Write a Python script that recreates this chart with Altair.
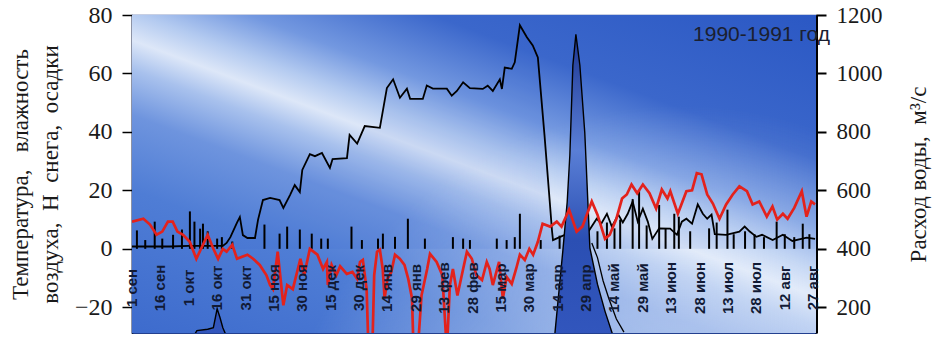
import altair as alt
import pandas as pd

BASE = pd.Timestamp("1990-09-01")
END = pd.Timestamp("1991-08-28 12:00")

# Air temperature, °C  (days counted from 1 Sep 1990)
temp_day = [0, 6, 9.5, 13, 16, 19, 21.5, 24, 27, 30.5, 34, 37.5, 40, 43, 45.5, 48, 50, 53, 55.5,
            61, 64, 67.5, 71, 73, 74.5, 77, 80, 82, 85, 89, 91, 94, 98, 101, 103, 103.5, 105.5,
            108, 110, 113.5, 116.5, 119, 120.5, 122, 124, 125, 127, 128, 129.5, 131, 132.5, 133.5,
            135, 137, 139, 141.5, 144, 146, 148, 148.8, 151, 153, 156, 157.5, 161, 164, 166.4,
            168, 169.6, 172, 175, 177, 179.6, 182, 185, 187.5, 189, 190.7, 194, 196, 198, 200.7,
            203, 205, 207.6, 210, 212, 214.5, 217, 221, 224.5, 227, 231, 235, 238, 243, 246, 250,
            252.5, 256, 259, 261.5, 264, 267, 270, 273.5, 277, 280, 283, 284.5, 288.5, 293, 296,
            298.5, 301, 304, 307, 310.5, 314, 317.5, 321, 325, 328, 331.5, 335.5, 338.5, 341, 344,
            346.5, 350, 354, 356.5, 359, 361]
temp_c = [9.3, 10.3, 8.3, 4.8, 5.9, 9.3, 9.3, 5.9, 4.8, 2.4, -3.4, 1.4, 4.8, 0, -3.4, 0, -1, 1.4, -3.4,
          -2, -3.4, -5.5, -9, -12.4, -13.8, -1, -19.3, -12.4, -13.8, -3.4, -9, 0, -2, -6.9, -4.5, -12.4, -5.5,
          -9, -6, -8.6, -7.9, -10.3, -4.5, -3.8, -13.8, -35, -35, -9, -1, -0.3, -6.9, -17,
          -10.3, -8, -2, -3.4, -5.5, -10.3, -17, -35, -35, -16, -6.9, -1.7, -4.5, -9, -35,
          -12.4, -6.9, -16, -6.9, -1, -3.4, -9, -10.7, -4.5, -6.9, -12.4, -4.5, -17, -9.6, -12,
          -6.9, -2, -3.8, 0, -2, 2.4, 8.6, 7.6, 9.3, 7.6, 13.4, 5.9, 7.6, 16.2, 11.7, 3.4,
          4.8, 10.3, 17.2, 18.6, 22, 19, 22, 19, 13.8, 20.3, 17.2, 19.7, 12, 19.7, 20,
          25.9, 25.5, 18.6, 15.5, 10.3, 15.2, 18.6, 21.4, 19.7, 15.2, 16.2, 11, 14.5, 10, 12,
          10.3, 14, 19.7, 11, 16.2, 15.2]

# Snow depth (cm) and the summer humidity trace drawn with the same black outline
snow_day = [0, 10, 20, 30, 40, 48, 50, 52, 55.5, 57, 58.6, 61, 65, 66.6, 69.2, 73, 78, 80, 83.5, 86,
            88.7, 90, 94, 96.7, 100.4, 104.6, 106, 113.6, 115, 119, 123, 131, 134.7, 138, 141.6,
            145.3, 147, 153.7, 155.8, 159, 166.4, 169, 171.7, 175, 178.6, 185.4, 188, 190.7, 194.4,
            195.5, 197, 200.7, 202.3, 205, 208.7, 211.8, 214.5, 218, 220.8, 222, 222.5, 226, 231,
            235, 239, 245.6, 248, 251, 253.6, 257, 259.4, 262, 264.6, 267.3, 270, 272.6, 275,
            278.6, 284.4, 288, 290.6, 293, 296, 299, 301.7, 304, 306.3, 308, 314, 321, 323.8,
            326.5, 330, 333, 338.6, 344, 349, 356.6, 361]
snow_cm = [0.8, 0.8, 0.8, 1, 1, 1, 2, 4, 9, 10.9, 4.7, 3.7, 3.7, 9.9, 16.7, 17.4, 16.7, 14, 18.4, 21.8,
           19.4, 27, 32.4, 31.7, 32.8, 27.7, 30.7, 31, 39, 36, 42, 41.4, 55, 58, 51.7,
           54.8, 51.3, 51.3, 55.9, 54.8, 54.8, 52.4, 54, 57, 55, 54.7, 55.8, 54, 58,
           54.7, 62, 61.6, 63.8, 76.5, 72.4, 69.6, 65.5, 39, 16, 6, 3, 4, 5.4,
           6.6, 3.7, 10.3, 8.6, 12, 7.6, 11.7, 9, 12, 16.2, 9.3, 13.7, 9.3, 3.4,
           7, 6.9, 4.8, 9.3, 10.3, 8.6, 15.2, 12, 10.3, 11.7, 5, 4.8, 5.9, 7.6,
           5.9, 4.1, 4.8, 3, 4.8, 2.7, 3.8, 3.4]

# Precipitation, mm
precip_day = [2.6, 7, 12, 16, 21.7, 26.4, 30.6, 33, 36, 37.5, 40, 45, 47.5, 53, 70, 78, 82, 88.7, 95,
              100, 103.5, 116, 121.5, 130, 132.6, 139, 145.8, 154.8, 169.6, 175, 178.6, 192.8, 198,
              202.3, 205, 216, 226, 232, 246, 251, 255, 258, 264.6, 268, 272, 278.6, 282, 286.6,
              289, 295, 305, 309, 314.7, 318, 324, 329, 334, 340.7, 345, 350, 354.5, 358]
precip_mm = [6.3, 3, 9.3, 3.5, 4.8, 6.6, 12.8, 9.3, 6.9, 8.6, 6, 3.5, 4, 2.5, 8.3, 5.2, 7.6, 6.6, 5.2,
             3.5, 3.5, 7.6, 3, 3.5, 5.2, 4.1, 10.3, 3.5, 4, 3.5, 3, 3.5, 3,
             4, 12, 3, 4.5, 6, 6, 9, 7, 10, 17, 20, 8, 15, 7, 12,
             11, 6, 7, 9, 13.4, 5, 6, 5, 4, 9.3, 5, 4, 8.6, 5]

# Water discharge, m³/s
flow_day = [0, 32, 34.3, 40, 43, 45, 46.5, 48, 50, 52, 222, 223.5, 227.7, 230, 231.4, 233, 234.6,
            236.7, 239.3, 240.9, 242, 246, 250, 254, 256, 361]
flow_m3s = [90, 95, 120, 125, 130, 195, 165, 130, 100, 90, 90, 110, 393, 560, 720, 1028, 1134,
            1028, 797, 565, 403, 279, 186, 107, 90, 90]

# Recession of the second gauge
flow2_day = [243, 246, 249, 252, 256, 260]
flow2_m3s = [420, 370, 290, 230, 160, 115]

date_labels = ["1 сен", "16 сен", "1 окт", "16 окт", "31 окт", "15 ноя", "30 ноя", "15 дек",
               "30 дек", "14 янв", "29 янв", "13 фев", "28 фев", "15 мар", "30 мар", "14 апр",
               "29 апр", "14 май", "29 май", "13 июн", "28 июн", "13 июл", "28 июл", "12 авг",
               "27 авг"]
season_title = "1990-1991 год"

LEFT_DOMAIN = [-28.8, 80]
RIGHT_DOMAIN = [112, 1200]
W, H = 684, 318


def frame(days, values, name):
    return pd.DataFrame({"date": BASE + pd.to_timedelta(days, unit="D"), name: values})


temp_df = frame(temp_day, temp_c, "temp")
snow_df = frame(snow_day, snow_cm, "snow")
precip_df = frame(precip_day, precip_mm, "precip")
precip_df["base"] = 0.0
flow_df = frame(flow_day, flow_m3s, "flow")
flow2_df = frame(flow2_day, flow2_m3s, "flow")
label_df = pd.DataFrame({
    "date": [BASE + pd.Timedelta(days=15 * i) for i in range(len(date_labels))],
    "label": date_labels,
})
title_df = pd.DataFrame({"date": [END], "label": [season_title]})
panel_df = pd.DataFrame({"start": [BASE], "end": [END],
                         "lo": [LEFT_DOMAIN[0]], "hi": [LEFT_DOMAIN[1]]})


def dt(ts):
    return alt.DateTime(year=ts.year, month=ts.month, date=ts.day, hours=ts.hour)


minor_ticks = [dt(BASE + pd.Timedelta(days=5 * k)) for k in range(73)]
x_scale = alt.Scale(domain=[dt(BASE), dt(END)])
zero_offset = -(H - H * LEFT_DOMAIN[1] / (LEFT_DOMAIN[1] - LEFT_DOMAIN[0]))

# The time axis runs along the zero line, with a small tick every five days
x_axis = alt.Axis(values=minor_ticks, labels=False, ticks=True, tickSize=4, tickWidth=1,
                  tickColor="black", domainColor="black", domainWidth=2, grid=False,
                  offset=zero_offset, title=None)

left_axis = alt.Axis(
    orient="left", values=[-20, 0, 20, 40, 60, 80], grid=False,
    tickSize=10, tickWidth=1.5, tickColor="black", domainColor="black", domainWidth=1.5,
    labelFont="Liberation Serif", labelFontSize=24, labelColor="#1a1a1a", labelPadding=10,
    title=["Температура,\u00a0\u00a0 влажность", "воздуха,\u00a0 Н\u00a0 снега,\u00a0 осадки"],
    titleFont="Liberation Serif", titleFontSize=23, titleFontWeight="normal",
    titleColor="#1a1a1a", titlePadding=12, titleLineHeight=30,
)
right_axis = alt.Axis(
    orient="right", values=[200, 400, 600, 800, 1000, 1200], format="d", grid=False,
    tickSize=10, tickWidth=2, tickColor="black", domainColor="black", domainWidth=3,
    labelFont="Liberation Serif", labelFontSize=23, labelColor="#1a1a1a", labelPadding=10,
    title="Расход воды,\u00a0 м³/с", titleAngle=270,
    titleFont="Liberation Serif", titleFontSize=23, titleFontWeight="normal",
    titleColor="#1a1a1a", titlePadding=48,
)

left_scale = alt.Scale(domain=LEFT_DOMAIN, nice=False, zero=False)
right_scale = alt.Scale(domain=RIGHT_DOMAIN, nice=False, zero=False)

backdrop = alt.LinearGradient(
    gradient="linear", x1=0.433, y1=-0.457, x2=-0.45, y2=0.638,
    stops=[
        alt.GradientStop(color="#2b58c4", offset=0.0),
        alt.GradientStop(color="#3b67cb", offset=0.25),
        alt.GradientStop(color="#7398e0", offset=0.37),
        alt.GradientStop(color="#b3caf0", offset=0.44),
        alt.GradientStop(color="#dde7f8", offset=0.49),
        alt.GradientStop(color="#a8c1ed", offset=0.54),
        alt.GradientStop(color="#6e94de", offset=0.62),
        alt.GradientStop(color="#4f7dd5", offset=0.75),
        alt.GradientStop(color="#3d6bcd", offset=1.0),
    ],
)
glow = alt.RadialGradient(
    gradient="radial", x1=0.8, y1=1.0, x2=0.8, y2=1.0, r1=0, r2=0.6,
    stops=[
        alt.GradientStop(color="rgba(236,243,253,0.8)", offset=0.0),
        alt.GradientStop(color="rgba(236,243,253,0.45)", offset=0.5),
        alt.GradientStop(color="rgba(236,243,253,0)", offset=1.0),
    ],
)
flood_fill = alt.LinearGradient(
    gradient="linear", x1=0, y1=0, x2=0, y2=1,
    stops=[
        alt.GradientStop(color="#1b3592", offset=0.0),
        alt.GradientStop(color="#5a7fd6", offset=0.35),
        alt.GradientStop(color="#2b4fb3", offset=0.62),
        alt.GradientStop(color="#3458c0", offset=1.0),
    ],
)

X = dict(scale=x_scale, axis=None)

panel = alt.Chart(panel_df).mark_rect(fill=backdrop).encode(
    x=alt.X("start:T", scale=x_scale, axis=x_axis),
    x2="end:T",
    y=alt.Y("lo:Q", scale=left_scale, axis=left_axis),
    y2="hi:Q",
)
panel_glow = alt.Chart(panel_df).mark_rect(fill=glow).encode(
    x=alt.X("start:T", **X),
    x2="end:T",
    y=alt.Y("lo:Q", scale=left_scale, axis=None),
    y2="hi:Q",
)
snow_area = alt.Chart(snow_df).mark_area(color="#3566d2", opacity=0.1, clip=True).encode(
    x=alt.X("date:T", **X),
    y=alt.Y("snow:Q", scale=left_scale, axis=None),
)
precip = alt.Chart(precip_df).mark_rule(color="black", strokeWidth=2, clip=True).encode(
    x=alt.X("date:T", **X),
    y=alt.Y("precip:Q", scale=left_scale, axis=None),
    y2="base:Q",
)
snow_line = alt.Chart(snow_df).mark_line(color="black", strokeWidth=1.8, clip=True).encode(
    x=alt.X("date:T", **X),
    y=alt.Y("snow:Q", scale=left_scale, axis=None),
)
labels = alt.Chart(label_df).mark_text(
    angle=270, align="center", baseline="middle", font="Liberation Sans",
    fontSize=15, fontWeight="bold", color="#111a35",
).encode(
    x=alt.X("date:T", **X),
    y=alt.YDatum(-13.4, scale=left_scale, axis=None),
    text="label:N",
)
year_text = alt.Chart(title_df).mark_text(
    align="right", baseline="middle", font="Liberation Sans", fontSize=21,
    color="#1b2030", dx=14,
).encode(
    x=alt.X("date:T", **X),
    y=alt.YDatum(73, scale=left_scale, axis=None),
    text="label:N",
)
flow_area = alt.Chart(flow_df).mark_area(
    fill=flood_fill, stroke="black", strokeWidth=1.4, clip=True
).encode(
    x=alt.X("date:T", **X),
    y=alt.Y("flow:Q", scale=right_scale, axis=right_axis),
)
flow2_line = alt.Chart(flow2_df).mark_line(color="black", strokeWidth=1.3, clip=True).encode(
    x=alt.X("date:T", **X),
    y=alt.Y("flow:Q", scale=right_scale, axis=None),
)
temp_line = alt.Chart(temp_df).mark_line(color="#e3221c", strokeWidth=2.7, clip=True).encode(
    x=alt.X("date:T", **X),
    y=alt.Y("temp:Q", scale=left_scale, axis=None),
)

chart = alt.layer(
    panel, panel_glow, snow_area, precip, snow_line, flow_area, flow2_line, temp_line,
    labels, year_text,
).resolve_scale(
    y="independent"
).properties(
    width=W, height=H,
    padding={"left": 132, "top": 15, "right": 116, "bottom": 11},
    autosize=alt.AutoSizeParams(type="none"),
    background="white",
).configure_view(stroke="#23408f", strokeWidth=1.2)

chart.save("out.html", embed_options={"renderer": "svg", "actions": False})
